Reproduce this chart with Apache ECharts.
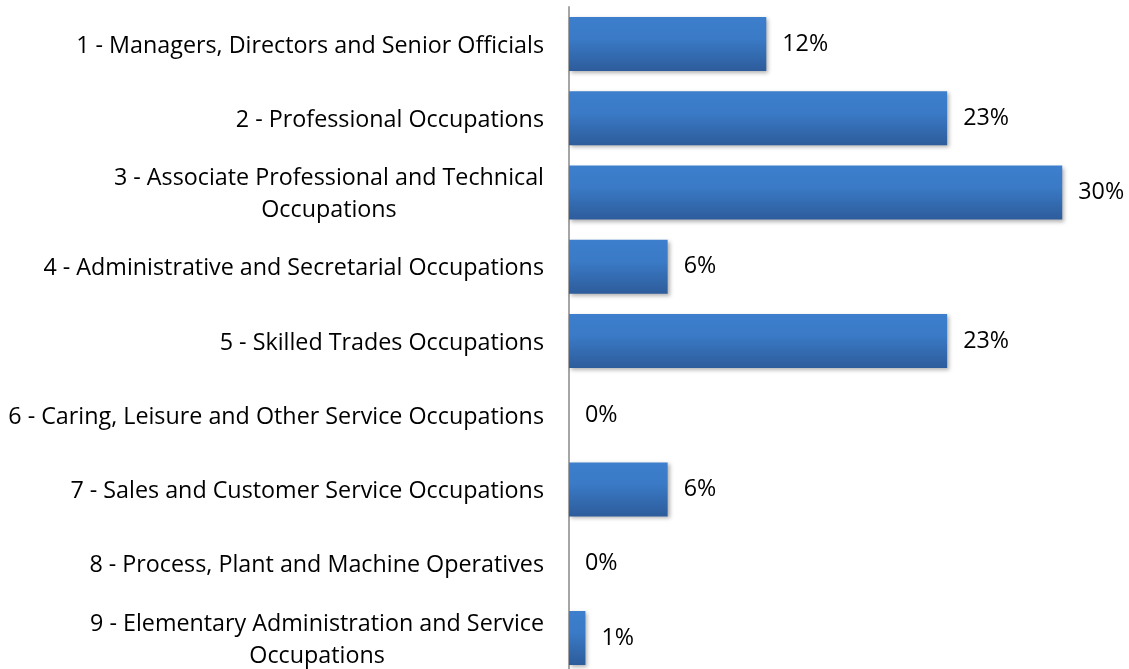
<!DOCTYPE html>
<html>
<head>
<meta charset="utf-8">
<script src="https://cdn.jsdelivr.net/npm/echarts@6/dist/echarts.min.js"></script>
<style>
  html, body { margin: 0; padding: 0; background: #fff; }
  #chart { width: 1129px; height: 669px; }
</style>
</head>
<body>
<div id="chart"></div>
<script>
const categories = [
  '1 - Managers, Directors and Senior Officials',
  '2 - Professional Occupations',
  '3 - Associate Professional and Technical\nOccupations',
  '4 - Administrative and Secretarial Occupations',
  '5 - Skilled Trades Occupations',
  '6 - Caring, Leisure and Other Service Occupations',
  '7 - Sales and Customer Service Occupations',
  '8 - Process, Plant and Machine Operatives',
  '9 - Elementary Administration and Service\nOccupations'
]
const values = [12, 23, 30, 6, 23, 0, 6, 0, 1]

const chart = echarts.init(document.getElementById('chart'))
const option = {
  animation: false,
  grid: {
    left: 569,
    top: 7,
    height: 668,
    width: 559,
    outerBoundsMode: 'none'
  },
  xAxis: {
    type: 'value',
    min: 0,
    max: 34,
    show: false
  },
  yAxis: {
    type: 'category',
    inverse: true,
    data: categories,
    axisLine: {
      show: true,
      lineStyle: { color: '#a6a6a6', width: 2 }
    },
    axisTick: { show: false },
    splitLine: { show: false },
    axisLabel: {
      margin: 25,
      padding: [4, 0, 0, 0],
      formatter: function (v) {
        // center each line of wrapped labels
        return v.split('\n').map(function (s) { return '{c|' + s + '}' }).join('\n')
      },
      rich: {
        c: {
          align: 'center',
          fontFamily: 'Open Sans',
          fontSize: 23.3,
          color: '#000',
          lineHeight: 32
        }
      }
    }
  },
  series: [
    {
      type: 'bar',
      data: values,
      barWidth: 54,
      itemStyle: {
        color: new echarts.graphic.LinearGradient(0, 0, 0, 1, [
          { offset: 0, color: '#3d7fcd' },
          { offset: 0.4, color: '#3a7ac6' },
          { offset: 1, color: '#2d5c9b' }
        ]),
        shadowColor: 'rgba(0,0,0,0.3)',
        shadowBlur: 4,
        shadowOffsetX: 2,
        shadowOffsetY: 2
      },
      label: {
        show: true,
        position: 'right',
        distance: 16,
        padding: [6, 0, 0, 0],
        formatter: '{c}%',
        fontFamily: 'Open Sans',
        fontSize: 23.3,
        color: '#000'
      }
    }
  ]
}
chart.setOption(option)
</script>
</body>
</html>
